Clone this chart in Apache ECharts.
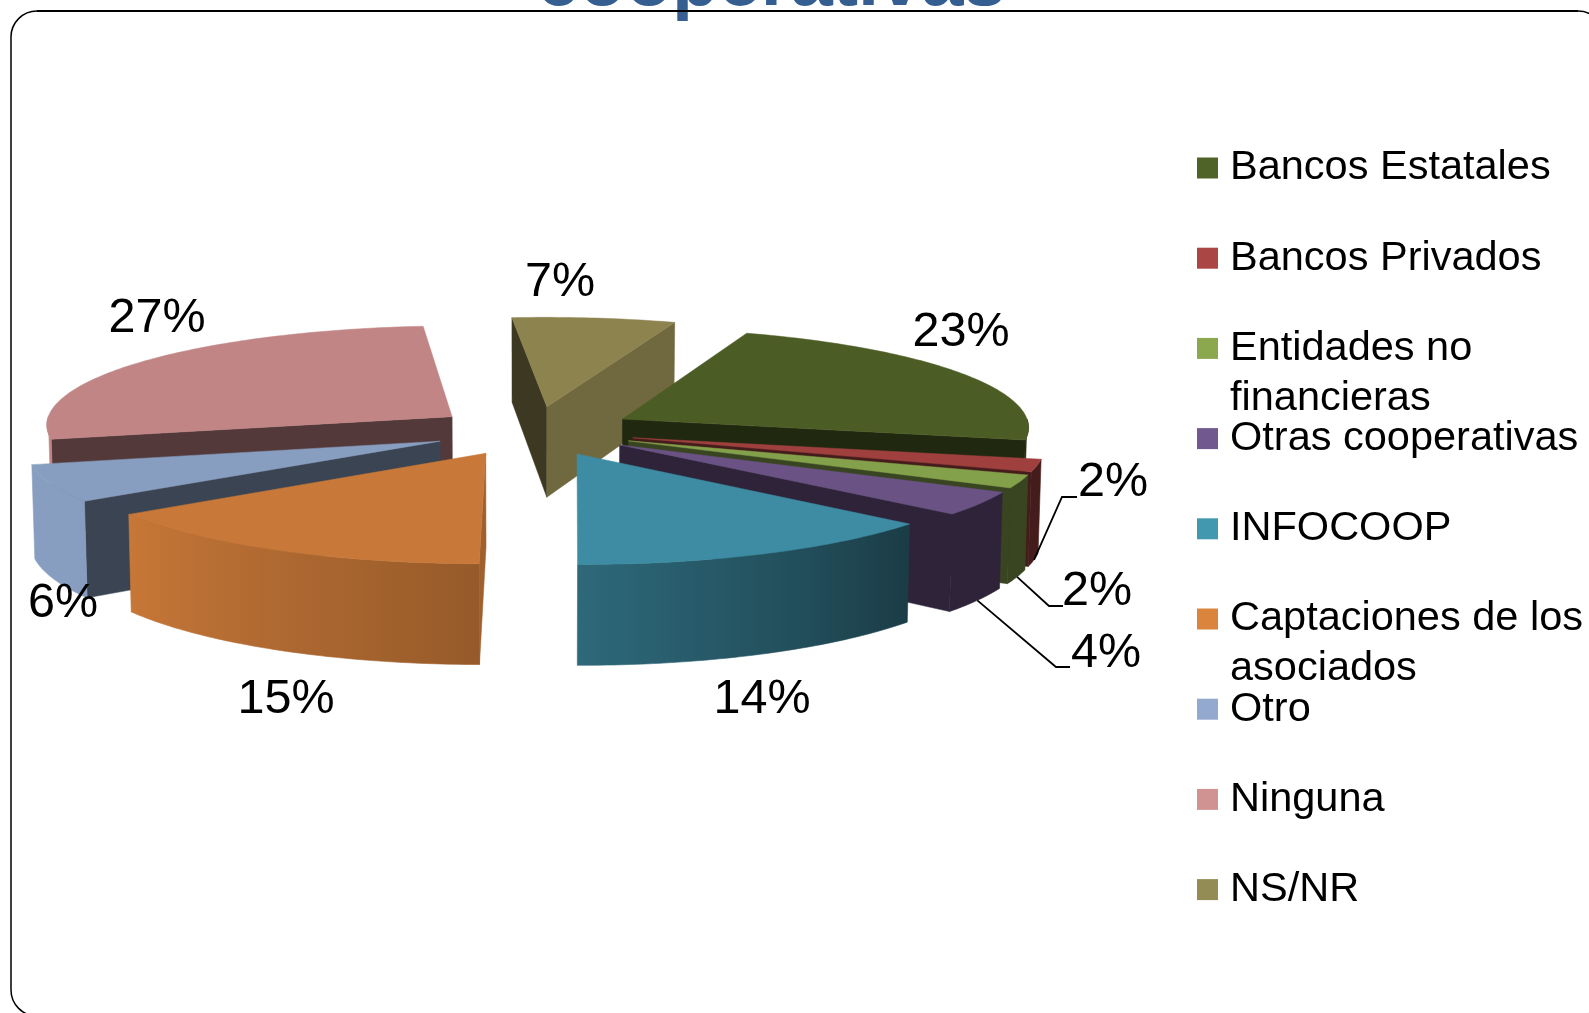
<!DOCTYPE html>
<html>
<head>
<meta charset="utf-8">
<style>html,body{margin:0;padding:0;background:#fff}#c{width:1589px;height:1013px}</style>
<script src="https://cdn.jsdelivr.net/npm/echarts@6/dist/echarts.min.js"></script>
</head>
<body>
<div id="c"></div>
<script>
const categories = ['Bancos Estatales','Bancos Privados','Entidades no financieras','Otras cooperativas','INFOCOOP','Captaciones de los asociados','Otro','Ninguna','NS/NR'];
const legendLines = ['Bancos Estatales','Bancos Privados','Entidades no\nfinancieras','Otras cooperativas','INFOCOOP','Captaciones de los\nasociados','Otro','Ninguna','NS/NR'];
const values = [22.8,2.0,2.1,3.8,13.8,15.2,6.0,27.2,7.0];
const legendColors = ['#4F6228','#AA4644','#8CA84E','#71588F','#4198AF','#DB843D','#93A9CF','#D19392','#948C55'];
const faceColors = ['#4C5C25','#9F403E','#83A04A','#6A5284','#3D8CA3','#C87838','#889EC0','#C08584','#8C834F'];
const titleText = 'cooperativas';

// layout of the tilted pie
const FF = '"Liberation Sans", Arial, sans-serif';
const CX = 534, CY = 431, RX = 408, RY = 99.2, DEPTH = 92, EXPLODE = 0.25, PERSP = 14, START = 20;
const labelAnchors = [[961,333],[1113,483],[1097,592],[1106,654],[762,700],[286,700],[63,604],[157,319],[560,283]];
const leaderElbows = {1:[[1062,497],[1077,497]],2:[[1049,606],[1063,606]],3:[[1056,667],[1070,667]]};

const total = values.reduce((a,b)=>a+b,0);
const rad = d => d*Math.PI/180;
const angles = []; let acc = 0;
values.forEach(v=>{const a0=START+acc/total*360; acc+=v; angles.push([a0,START+acc/total*360]);});
const midV = angles.map(a=>-Math.cos(rad((a[0]+a[1])/2)));
const ranks = midV.map((_,i)=>i).sort((a,b)=>midV[a]-midV[b]);

function project(u,v){const s=PERSP/(PERSP-v);return {x:CX+RX*u*s,y:CY+RY*v*s,s};}
function planePoint(i,deg,r){
  const m=rad((angles[i][0]+angles[i][1])/2), t=rad(deg);
  return project(EXPLODE*Math.sin(m)+r*Math.sin(t),-EXPLODE*Math.cos(m)-r*Math.cos(t));
}
function low(p){return [CX+(p.x-CX)*0.994,p.y+DEPTH*p.s];}
function up(p){return [p.x,p.y];}
function shade(hex,f){
  const n=parseInt(hex.slice(1),16);
  const c=[n>>16,(n>>8)&255,n&255].map(x=>Math.round(x*f));
  return 'rgb('+c.join(',')+')';
}
function rimShade(deg){
  const d=((deg%360)+360)%360;
  if(d<=131) return 0.43;
  if(d<=182) return 0.43+(d-131)/51*0.33;
  if(d<=236) return 0.76+(d-182)/54*0.24;
  return 1;
}
function cutShade(normal){
  const d=((normal%360)+360)%360;
  return (d>60&&d<130)?0.8:0.43;
}
function renderSlice(i){
  const [a0,a1]=angles[i], face=faceColors[i], kids=[];
  const apex=planePoint(i,a0,0);
  const rim=[]; for(let d=a0;d<a1;d+=1) rim.push(d); rim.push(a1);
  // cut walls facing the viewer
  const cut=(deg,normal)=>{
    const p=planePoint(i,deg,1);
    kids.push({type:'polygon',shape:{points:[up(apex),up(p),low(p),low(apex)]},
      style:{fill:shade(face,cutShade(normal)),stroke:shade(face,cutShade(normal)),lineWidth:0.5}});
  };
  if(-Math.sin(rad(a0))>0) cut(a0,a0-90);
  if(Math.sin(rad(a1))>0) cut(a1,a1+90);
  // outer wall, front part of the rim only
  const lo=Math.max(a0,90), hi=Math.min(a1,270);
  if(hi>lo){
    const ds=[]; for(let d=lo;d<hi;d+=1) ds.push(d); ds.push(hi);
    const topE=ds.map(d=>planePoint(i,d,1));
    const pts=topE.map(up).concat(topE.slice().reverse().map(low));
    const xs=topE.map(p=>p.x), minX=Math.min(...xs), maxX=Math.max(...xs);
    const samples=ds.filter((_,k)=>k%4===0||k===ds.length-1);
    const stops=samples.map(d=>({offset:(planePoint(i,d,1).x-minX)/Math.max(1,maxX-minX),color:shade(face,rimShade(d))}))
      .sort((a,b)=>a.offset-b.offset);
    const grad={type:'linear',x:0,y:0,x2:1,y2:0,colorStops:stops};
    kids.push({type:'polygon',shape:{points:pts},style:{fill:grad,stroke:grad,lineWidth:0.6}});
  }
  // top face
  kids.push({type:'polygon',shape:{points:[up(apex)].concat(rim.map(d=>up(planePoint(i,d,1))))},style:{fill:face,stroke:face,lineWidth:0.5}});
  // leader and label
  const mid=(a0+a1)/2;
  if(leaderElbows[i]){
    const start=low(planePoint(i,mid,1));
    kids.push({type:'polyline',shape:{points:[start].concat(leaderElbows[i])},style:{fill:'none',stroke:'#000',lineWidth:1.8}});
  }
  kids.push({type:'text',style:{text:Math.round(values[i])+'%',x:labelAnchors[i][0],y:labelAnchors[i][1],align:'center',verticalAlign:'middle',font:'48.5px '+FF,fill:'#000'}});
  return {type:'group',children:kids};
}

const chart = echarts.init(document.getElementById('c'),null,{renderer:'canvas'});
chart.setOption({
  animation:false,
  backgroundColor:'#fff',
  title:{text:titleText,left:537,top:-54,padding:0,z:1,textStyle:{fontFamily:FF,fontWeight:'bold',fontSize:76,color:'#365F91'}},
  legend:categories.map((c,i)=>{
    const lines=legendLines[i].split('\n').length;
    return {
      data:[c],orient:'vertical',left:1197,top:168+90.2*i-(lines>1?75:25),padding:0,itemGap:0,
      itemWidth:21,itemHeight:21,icon:'rect',selectedMode:false,
      formatter:()=>lines>1?'\n'+legendLines[i]:legendLines[i],
      textStyle:{fontFamily:FF,fontSize:41.5,lineHeight:50,color:'#000',padding:[0,0,0,7]}
    };
  }),
  graphic:[
    {type:'rect',z:100,silent:true,shape:{x:11,y:11,width:1593,height:1005,r:26},style:{fill:'none',stroke:'#000',lineWidth:1.5}},
    {type:'line',z:100,silent:true,shape:{x1:37,y1:11,x2:1578,y2:11},style:{stroke:'#000',lineWidth:2.2}}
  ],
  series:categories.map((c,i)=>({
    type:'custom',name:c,coordinateSystem:'none',silent:true,
    z:2+ranks.indexOf(i),clip:false,
    itemStyle:{color:legendColors[i]},
    data:[[values[i]]],
    renderItem:()=>renderSlice(i)
  }))
});
</script>
</body>
</html>
